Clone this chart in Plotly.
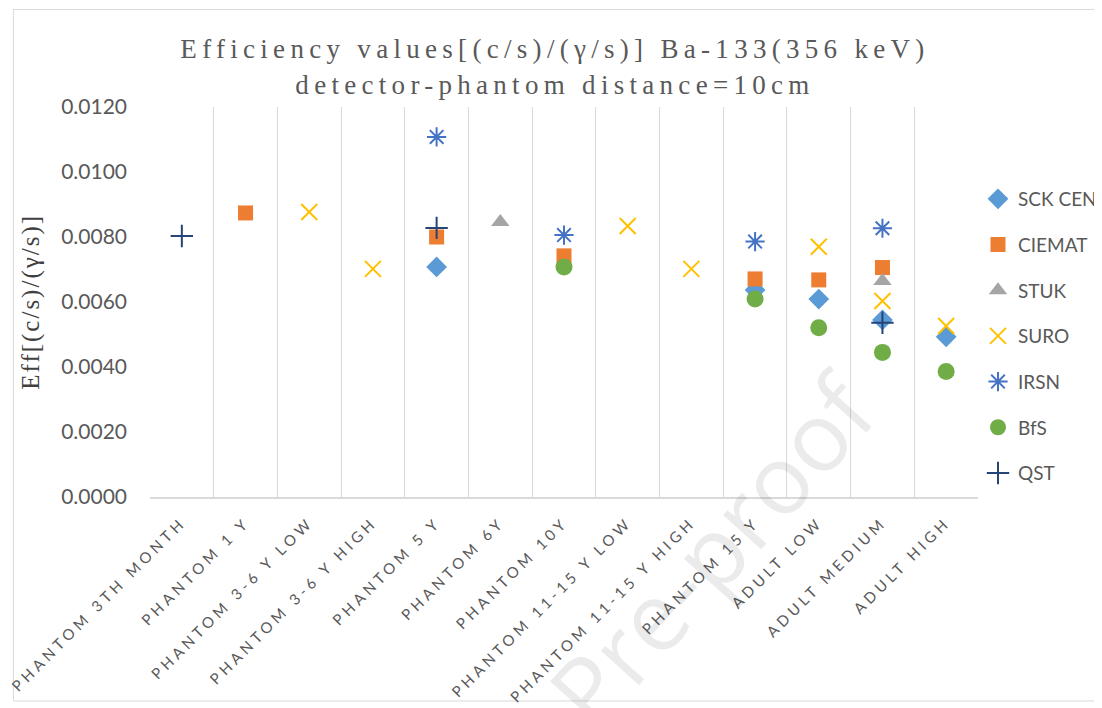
import plotly.graph_objects as go

# categories (x axis)
categories = ["PHANTOM 3TH MONTH", "PHANTOM 1 Y", "PHANTOM 3-6 Y LOW", "PHANTOM 3-6 Y HIGH",
              "PHANTOM 5 Y", "PHANTOM 6Y", "PHANTOM 10Y", "PHANTOM 11-15 Y LOW",
              "PHANTOM 11-15 Y HIGH", "PHANTOM 15 Y", "ADULT LOW", "ADULT MEDIUM", "ADULT HIGH"]

# efficiency values per lab, None = no value
sck_cen = [None, None, None, None, 0.00708, None, None, None, None, 0.00637, 0.00609, 0.00545, 0.00493]
ciemat = [None, 0.00874, None, None, 0.00800, None, 0.00742, None, None, 0.00671, 0.00668, 0.00706, None]
stuk = [None, None, None, None, None, 0.00846, None, None, None, None, None, 0.00665, None]
suro = [None, None, 0.00877, 0.00702, None, None, None, 0.00834, 0.00702, None, 0.00770, 0.00603, 0.00526]
irsn = [None, None, None, None, 0.01108, None, 0.00806, None, None, 0.00786, None, 0.00827, None]
bfs = [None, None, None, None, None, None, 0.00708, None, None, 0.00609, 0.00521, 0.00445, 0.00386]
qst = [0.00803, None, None, None, 0.00828, None, None, None, None, None, None, 0.00536, None]

y_ticks = [0, 0.002, 0.004, 0.006, 0.008, 0.010, 0.012]

series = [
    ("SCK CEN", sck_cen, dict(symbol="diamond", size=16, color="#5B9BD5")),
    ("CIEMAT", ciemat, dict(symbol="square", size=15, color="#ED7D31")),
    ("STUK", stuk, dict(symbol="triangle-up", size=16, color="#A5A5A5")),
    ("SURO", suro, dict(symbol="x-thin-open", size=16, color="#FFC000", line=dict(width=2, color="#FFC000"))),
    ("IRSN", irsn, dict(symbol="asterisk-open", size=16, color="#4472C4", line=dict(width=2, color="#4472C4"))),
    ("BfS", bfs, dict(symbol="circle", size=17, color="#70AD47")),
    ("QST", qst, dict(symbol="cross-thin-open", size=16, color="#264478", line=dict(width=2, color="#264478"))),
]

fig = go.Figure()
for name, vals, mk in series:
    fig.add_trace(go.Scatter(x=categories, y=vals, name=name, mode="markers",
                             marker=mk, legendgroup=name))

spaced = '<span style="letter-spacing:4px">%s</span>'

# page body has an 8px margin, so the figure is 8px smaller than the window
fig.update_layout(
    width=1094, height=700,
    margin=dict(l=142, r=124, t=99, b=211, autoexpand=False),
    paper_bgcolor="white", plot_bgcolor="white",
    title=dict(
        text='<span style="letter-spacing:5.3px">Efficiency values[(c/s)/(γ/s)] Ba-133(356 keV)<br>'
             'detector-phantom distance=10cm</span>',
        x=0.5, xref="container", y=0.928, yref="container", yanchor="top",
        font=dict(family="Liberation Serif", size=27, color="#595959"),
    ),
    font=dict(family="Lato", color="#595959"),
    showlegend=True,
    legend=dict(x=1.0, xanchor="left", y=0.413, yanchor="middle",
                font=dict(family="Lato", size=19, color="#595959"),
                tracegroupgap=18, itemwidth=30),
    xaxis=dict(
        type="category", range=[-0.5, 12.5],
        tickmode="array", tickvals=categories, ticktext=[spaced % c for c in categories],
        tickangle=-45, tickson="boundaries", ticks="",
        showgrid=True, gridcolor="#D9D9D9", gridwidth=1,
        showline=True, linecolor="#D9D9D9", linewidth=1.5,
        tickfont=dict(family="Lato", size=15, color="#595959"),
        ticklabelstandoff=9, automargin=False,
    ),
    yaxis=dict(
        range=[0, 0.012], tickvals=y_ticks, tickformat=".4f",
        showgrid=False, zeroline=False, showline=False, ticks="",
        tickfont=dict(family="Lato", size=21, color="#595959"),
        ticklabelstandoff=22, automargin=False,
    ),
    annotations=[
        dict(text='<span style="letter-spacing:2px">Eff[(c/s)/(γ/s)]</span>',
             xref="paper", yref="paper", x=-0.144, y=0.5, xanchor="center", yanchor="middle",
             textangle=-90, showarrow=False,
             font=dict(family="Liberation Serif", size=25, color="#404040")),
        dict(text="Pre-proof", xref="paper", yref="paper", x=0.678, y=-0.131,
             xanchor="center", yanchor="middle", textangle=-48,
             showarrow=False, font=dict(family="Open Sans", size=96, color="rgba(0,0,0,0.08)")),
    ],
    shapes=[dict(type="rect", xref="paper", yref="paper", x0=-0.165, x1=1.16, y0=-0.523, y1=1.25,
                 line=dict(color="#D9D9D9", width=1), layer="below")],
)

fig.write_html("out.html")
